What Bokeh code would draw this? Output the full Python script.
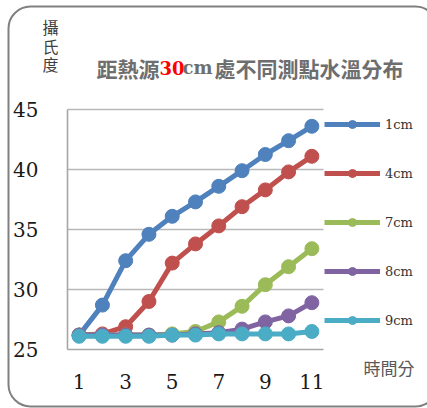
from bokeh.plotting import figure
from bokeh.models import Legend, LegendItem, Label, BoxAnnotation, Range1d
from bokeh.core.properties import value
from bokeh.embed import file_html
from bokeh.resources import INLINE

# Time in minutes and water temperature (°C) at each measuring depth
minutes = [1, 2, 3, 4, 5, 6, 7, 8, 9, 10, 11]
temp_1cm = [26.2, 28.7, 32.4, 34.6, 36.1, 37.3, 38.6, 39.9, 41.25, 42.4, 43.6]
temp_4cm = [26.2, 26.3, 26.9, 29.0, 32.2, 33.8, 35.3, 36.9, 38.3, 39.8, 41.1]
temp_7cm = [26.2, 26.2, 26.2, 26.2, 26.3, 26.5, 27.3, 28.6, 30.4, 31.9, 33.4]
temp_8cm = [26.2, 26.2, 26.2, 26.2, 26.2, 26.3, 26.4, 26.7, 27.3, 27.8, 28.9]
temp_9cm = [26.1, 26.1, 26.1, 26.1, 26.2, 26.2, 26.3, 26.3, 26.3, 26.3, 26.5]

series_names = ["1cm", "4cm", "7cm", "8cm", "9cm"]
series_values = [temp_1cm, temp_4cm, temp_7cm, temp_8cm, temp_9cm]
series_colors = ["#4f81bd", "#c0504d", "#9bbb59", "#8064a2", "#4bacc6"]

x_ticks = [1, 3, 5, 7, 9, 11]
y_ticks = [25, 30, 35, 40, 45]

W, H = 427, 408
# pixel box of the chart area inside the canvas
FL, FR, FT, FB = 67, 323, 109, 349
X0, X1 = 0.5, 11.5
Y0, Y1 = 25, 45


def dx(px):
    return X0 + (px - FL) / (FR - FL) * (X1 - X0)


def dy(py):
    return Y0 + (FB - py) / (FB - FT) * (Y1 - Y0)


# the frame covers the whole canvas so titles and legend are never clipped
p = figure(width=W, height=H, output_backend="svg", toolbar_location=None,
           x_range=Range1d(dx(0), dx(W)), y_range=Range1d(dy(H), dy(0)),
           x_axis_location=None, y_axis_location=None,
           min_border=0, min_border_left=0, min_border_right=0,
           min_border_top=0, min_border_bottom=0)
p.outline_line_color = None
p.background_fill_color = "white"
p.border_fill_color = "white"
p.grid.visible = False

serif = "DejaVu Serif"
cjk = "Noto Sans CJK TC"

# horizontal gridlines
grid_y = [t for t in y_ticks if t > Y0]
p.segment(x0=[X0] * len(grid_y), x1=[X1] * len(grid_y), y0=grid_y, y1=grid_y,
          line_color="#b8b8b8", line_width=1.6)
# axis lines
p.segment(x0=[X0, X0], x1=[X0, X1], y0=[Y0, Y0], y1=[Y1, Y0],
          line_color="#a6a6a6", line_width=1.6)

# tick labels
p.text(x=[dx(38)] * len(y_ticks), y=y_ticks, text=[str(t) for t in y_ticks],
       text_font=value(serif), text_font_size="20px", text_color="#1a1a1a",
       text_align="right", text_baseline="middle")
p.text(x=x_ticks, y=[dy(381)] * len(x_ticks), text=[str(t) for t in x_ticks],
       text_font=value(serif), text_font_size="20px", text_color="#1a1a1a",
       text_align="center", text_baseline="middle")

items = []
for name, vals, col in zip(series_names, series_values, series_colors):
    ln = p.line(minutes, vals, line_color=col, line_width=5)
    sc = p.scatter(minutes, vals, size=14, fill_color=col, line_color=col)
    items.append(LegendItem(label=name, renderers=[ln, sc]))

# legend location is measured from the canvas bottom-left
legend = Legend(items=items, location=(FR + 1, H - 330), orientation="vertical",
                glyph_width=56, glyph_height=20, label_height=20,
                spacing=29, padding=5, margin=0, label_standoff=5,
                label_text_font=serif, label_text_font_size="13px",
                label_text_color="#333333",
                border_line_color=None, background_fill_alpha=0)
p.add_layout(legend)

title_parts = [
    ("距熱源", 96, cjk, "21px", "#6e6e6e"),
    ("30", 159, serif, "18px", "#ff0000"),
    ("cm", 182, serif, "18px", "#6e6e6e"),
    ("處不同測點水溫分布", 214, cjk, "21px", "#6e6e6e"),
]
for txt, px, font, size, col in title_parts:
    p.add_layout(Label(x=dx(px), y=dy(67), text=txt, text_font=font,
                       text_font_size=size, text_font_style="bold",
                       text_color=col, text_align="left",
                       text_baseline="middle"))

for ch, py in zip("攝氏度", [26, 45, 63]):
    p.add_layout(Label(x=dx(50), y=dy(py), text=ch, text_font=cjk,
                       text_font_size="16px", text_color="#404040",
                       text_align="center", text_baseline="middle"))

p.add_layout(Label(x=dx(363), y=dy(367), text="時間分", text_font=cjk,
                   text_font_size="17px", text_color="#595959",
                   text_align="left", text_baseline="middle"))

# rounded outer border, running past the right edge of the canvas
p.add_layout(BoxAnnotation(left=dx(8), right=dx(437), top=dy(6), bottom=dy(406),
                           fill_alpha=0, line_color="#808080", line_alpha=1.0,
                           line_width=2, border_radius=22))

open("out.html", "w").write(file_html(p, INLINE))
